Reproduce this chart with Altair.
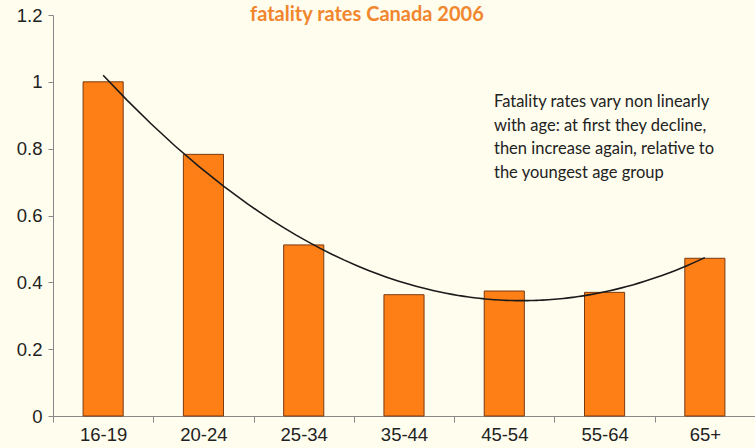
import altair as alt
import pandas as pd

ages = ["16-19", "20-24", "25-34", "35-44", "45-54", "55-64", "65+"]
rates = [1.0, 0.783, 0.512, 0.363, 0.374, 0.370, 0.472]
order = [1, 2, 3, 4, 5, 6, 7]
y_ticks = [0, 0.2, 0.4, 0.6, 0.8, 1.0, 1.2]
note_lines = [
    "Fatality rates vary non linearly",
    "with age: at first they decline,",
    "then increase again, relative to",
    "the youngest age group",
]
title_text = "fatality rates Canada 2006"

df = pd.DataFrame({"age": ages, "rate": rates, "idx": order})
one = pd.DataFrame({"k": [0]})

W, H = 702, 401
LABEL_FONT = "Liberation Sans, Arial, sans-serif"
LABEL_SIZE = 18.5

yenc = alt.Y(
    "rate:Q",
    scale=alt.Scale(domain=[0, 1.2], nice=False),
    axis=alt.Axis(
        values=y_ticks, format="~g", title=None, grid=False,
        tickSize=5, labelPadding=6, labelFont=LABEL_FONT,
        labelFontSize=LABEL_SIZE, labelColor="#222222",
        domainColor="#888888", tickColor="#888888",
    ),
)

bars = alt.Chart(df).mark_bar(
    color="#FF7F17", stroke="#7A3A10", strokeWidth=1,
    width=alt.RelativeBandSize(0.4),
).encode(
    x=alt.X(
        "age:N", sort=ages,
        scale=alt.Scale(paddingInner=0, paddingOuter=0),
        axis=alt.Axis(title=None, labelAngle=0, tickBand="extent",
                      tickSize=6, labelPadding=3, labelFont=LABEL_FONT,
                      labelFontSize=LABEL_SIZE, labelColor="#222222",
                      domainColor="#888888", tickColor="#888888"),
    ),
    y=yenc,
)

trend = alt.Chart(df).transform_regression(
    "idx", "rate", method="poly", order=2, extent=[1, 7]
).mark_line(color="#1a1a1a", strokeWidth=1.6).encode(
    x=alt.X("idx:Q", scale=alt.Scale(domain=[0.5, 7.5], nice=False, zero=False), axis=None),
    y=alt.Y("rate:Q"),
)

note = alt.Chart(one).mark_text(
    align="left", baseline="top", font="Lato", fontSize=16.5,
    lineHeight=23.5, color="#222222",
).encode(
    x=alt.value(441), y=alt.value(79), text=alt.value(note_lines)
)

title = alt.Chart(one).mark_text(
    align="left", baseline="alphabetic", font="Lato", fontSize=20,
    fontWeight="bold", color="#F0862E",
).encode(
    x=alt.value(197), y=alt.value(6), text=alt.value(title_text)
)

chart = alt.layer(bars, trend, note, title).resolve_scale(
    x="independent"
).properties(
    width=W, height=H,
    background="#FFFDEE",
    padding={"left": 53, "top": 15, "right": 0, "bottom": 32},
    autosize=alt.AutoSizeParams(type="none"),
).configure_view(stroke=None)

chart.save("out.html", embed_options={"renderer": "svg", "actions": False})
